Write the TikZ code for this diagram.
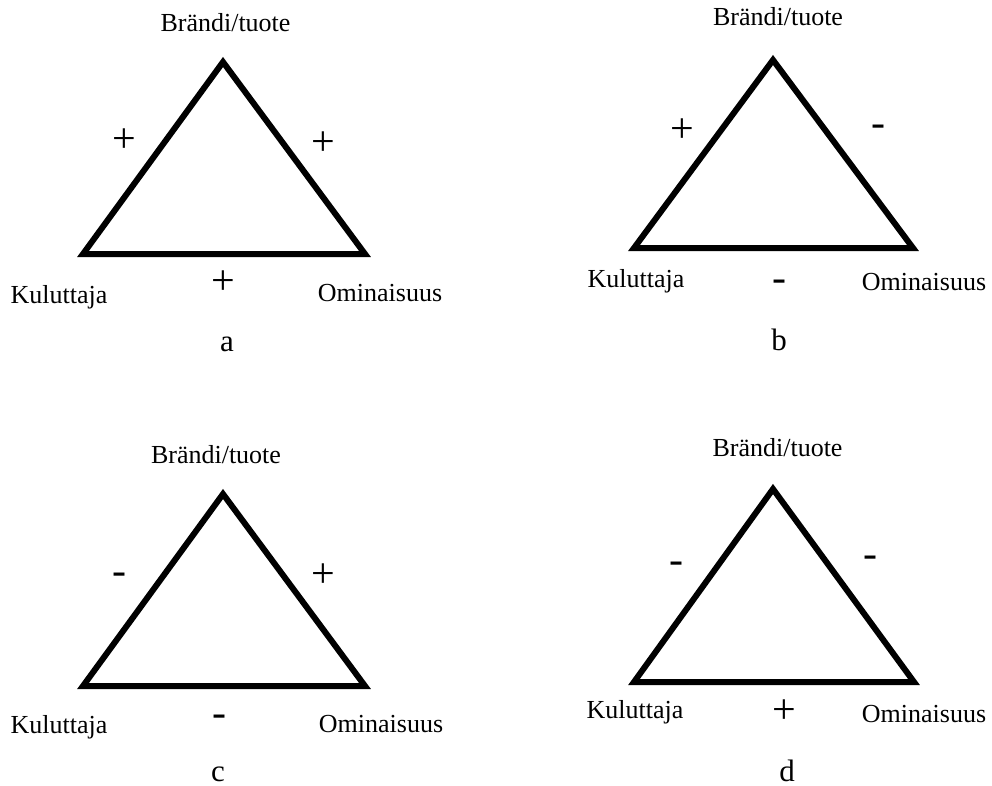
\documentclass[tikz,border=0pt]{standalone}
\usepackage{fontspec}
\setmainfont{Liberation Serif}
\begin{document}
\begin{tikzpicture}[x=1pt,y=-1pt,
  tri/.style={draw=black,line width=6pt,miter limit=10,line join=miter},
  txt/.style={inner sep=0pt,anchor=base,font=\fontsize{26}{30}\selectfont},
  sgn/.style={inner sep=0pt,anchor=base,font=\fontsize{42}{46}\selectfont},
  letterlbl/.style={inner sep=0pt,anchor=base,font=\fontsize{31}{35}\selectfont}]
\useasboundingbox (0,0) rectangle (992,785);
% ---- a ----
\coordinate (aT) at (223,62);
\coordinate (aL) at (83,254);
\coordinate (aR) at (365,254);
\draw[tri] (aT) -- (aR) -- (aL) -- cycle;
\node[txt] (aBr) at (225.5,31) {Brändi/tuote};
\node[sgn] (aS1) at (124,152.6) {+};
\node[sgn] (aS2) at (323,155.6) {+};
\node[sgn] (aS3) at (223,294.6) {+};
\node[txt] (aKu) at (59,303) {Kuluttaja};
\node[txt] (aOm) at (380,301) {Ominaisuus};
\node[letterlbl] (aLb) at (227,351) {a};
% ---- b ----
\coordinate (bT) at (773,60);
\coordinate (bL) at (634,248);
\coordinate (bR) at (913,248);
\draw[tri] (bT) -- (bR) -- (bL) -- cycle;
\node[txt] (bBr) at (778,25) {Brändi/tuote};
\node[sgn] (bS1) at (682,142.6) {+};
\node[sgn] (bS2) at (878,136.5) {-};
\node[sgn] (bS3) at (779,291.5) {-};
\node[txt] (bKu) at (636,287) {Kuluttaja};
\node[txt] (bOm) at (924,290) {Ominaisuus};
\node[letterlbl] (bLb) at (779,350) {b};
% ---- c ----
\coordinate (cT) at (223,494);
\coordinate (cL) at (83,686);
\coordinate (cR) at (365,686);
\draw[tri] (cT) -- (cR) -- (cL) -- cycle;
\node[txt] (cBr) at (216,463) {Brändi/tuote};
\node[sgn] (cS1) at (119,584.5) {-};
\node[sgn] (cS2) at (323,587.6) {+};
\node[sgn] (cS3) at (219,726.5) {-};
\node[txt] (cKu) at (59,733) {Kuluttaja};
\node[txt] (cOm) at (381,732) {Ominaisuus};
\node[letterlbl] (cLb) at (218,781) {c};
% ---- d ----
\coordinate (dT) at (773,489);
\coordinate (dL) at (634,682);
\coordinate (dR) at (914,682);
\draw[tri] (dT) -- (dR) -- (dL) -- cycle;
\node[txt] (dBr) at (777.5,456) {Brändi/tuote};
\node[sgn] (dS1) at (676,573.5) {-};
\node[sgn] (dS2) at (870,567.5) {-};
\node[sgn] (dS3) at (784,723.6) {+};
\node[txt] (dKu) at (635,718) {Kuluttaja};
\node[txt] (dOm) at (924,722) {Ominaisuus};
\node[letterlbl] (dLb) at (787,781) {d};
\end{tikzpicture}
\end{document}
